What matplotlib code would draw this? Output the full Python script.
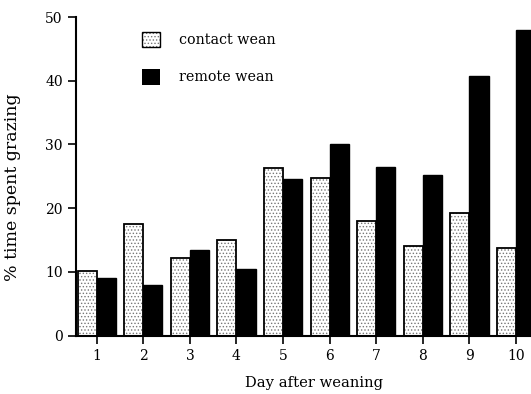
import matplotlib
matplotlib.use('Agg')
import matplotlib.pyplot as plt
import numpy as np

days = [1, 2, 3, 4, 5, 6, 7, 8, 9, 10]
contact_wean = [10.2, 17.6, 12.2, 15.0, 26.3, 24.8, 18.0, 14.0, 19.3, 13.8]
remote_wean = [9.0, 8.0, 13.5, 10.5, 24.6, 30.0, 26.4, 25.2, 40.8, 47.9]
y_ticks = [0, 10, 20, 30, 40, 50]

plt.rcParams['font.family'] = 'DejaVu Serif'
plt.rcParams['hatch.linewidth'] = 0.6

fig = plt.figure(figsize=(5.31, 3.94), dpi=100)
ax = fig.add_axes([76 / 531, (394 - 335.7) / 394, 1 - 76 / 531, (335.7 - 17) / 394])

x = np.array(days)
w = 0.41

# stippled bars: hatch in grey first, black outline on top
ax.bar(x - w / 2, contact_wean, width=w, color='white', edgecolor='#777777',
       hatch='.....', linewidth=0)
ax.bar(x - w / 2, contact_wean, width=w, fill=False, edgecolor='black', linewidth=1.3)
ax.bar(x + w / 2, remote_wean, width=w, color='black', edgecolor='black', linewidth=1)

ax.set_xlim(0.556, 10.32)
ax.set_ylim(0, 50)
ax.set_xticks(days)
ax.set_yticks(y_ticks)
ax.spines['top'].set_visible(False)
ax.spines['right'].set_visible(False)
ax.spines['left'].set_linewidth(1.5)
ax.spines['bottom'].set_linewidth(1.5)
ax.tick_params(axis='both', direction='out', length=6, width=1.2, labelsize=10)

ax.set_xlabel('Day after weaning', fontsize=10.6)
ax.xaxis.set_label_coords(0.523, -0.128)
ax.set_ylabel('% time spent grazing', fontsize=12.5)
ax.yaxis.set_label_coords(-0.121, 0.467)

# legend drawn by hand
ax.bar([2.17], [2.3], bottom=[45.3], width=0.39, color='white', edgecolor='#777777',
       hatch='.....', linewidth=0)
ax.bar([2.17], [2.3], bottom=[45.3], width=0.39, fill=False, edgecolor='black', linewidth=1)
ax.bar([2.17], [2.5], bottom=[39.3], width=0.39, color='black')
ax.text(2.77, 46.4, 'contact wean', fontsize=10.3, va='center')
ax.text(2.77, 40.6, 'remote wean', fontsize=10.3, va='center')

fig.savefig('out.png', dpi=100)
